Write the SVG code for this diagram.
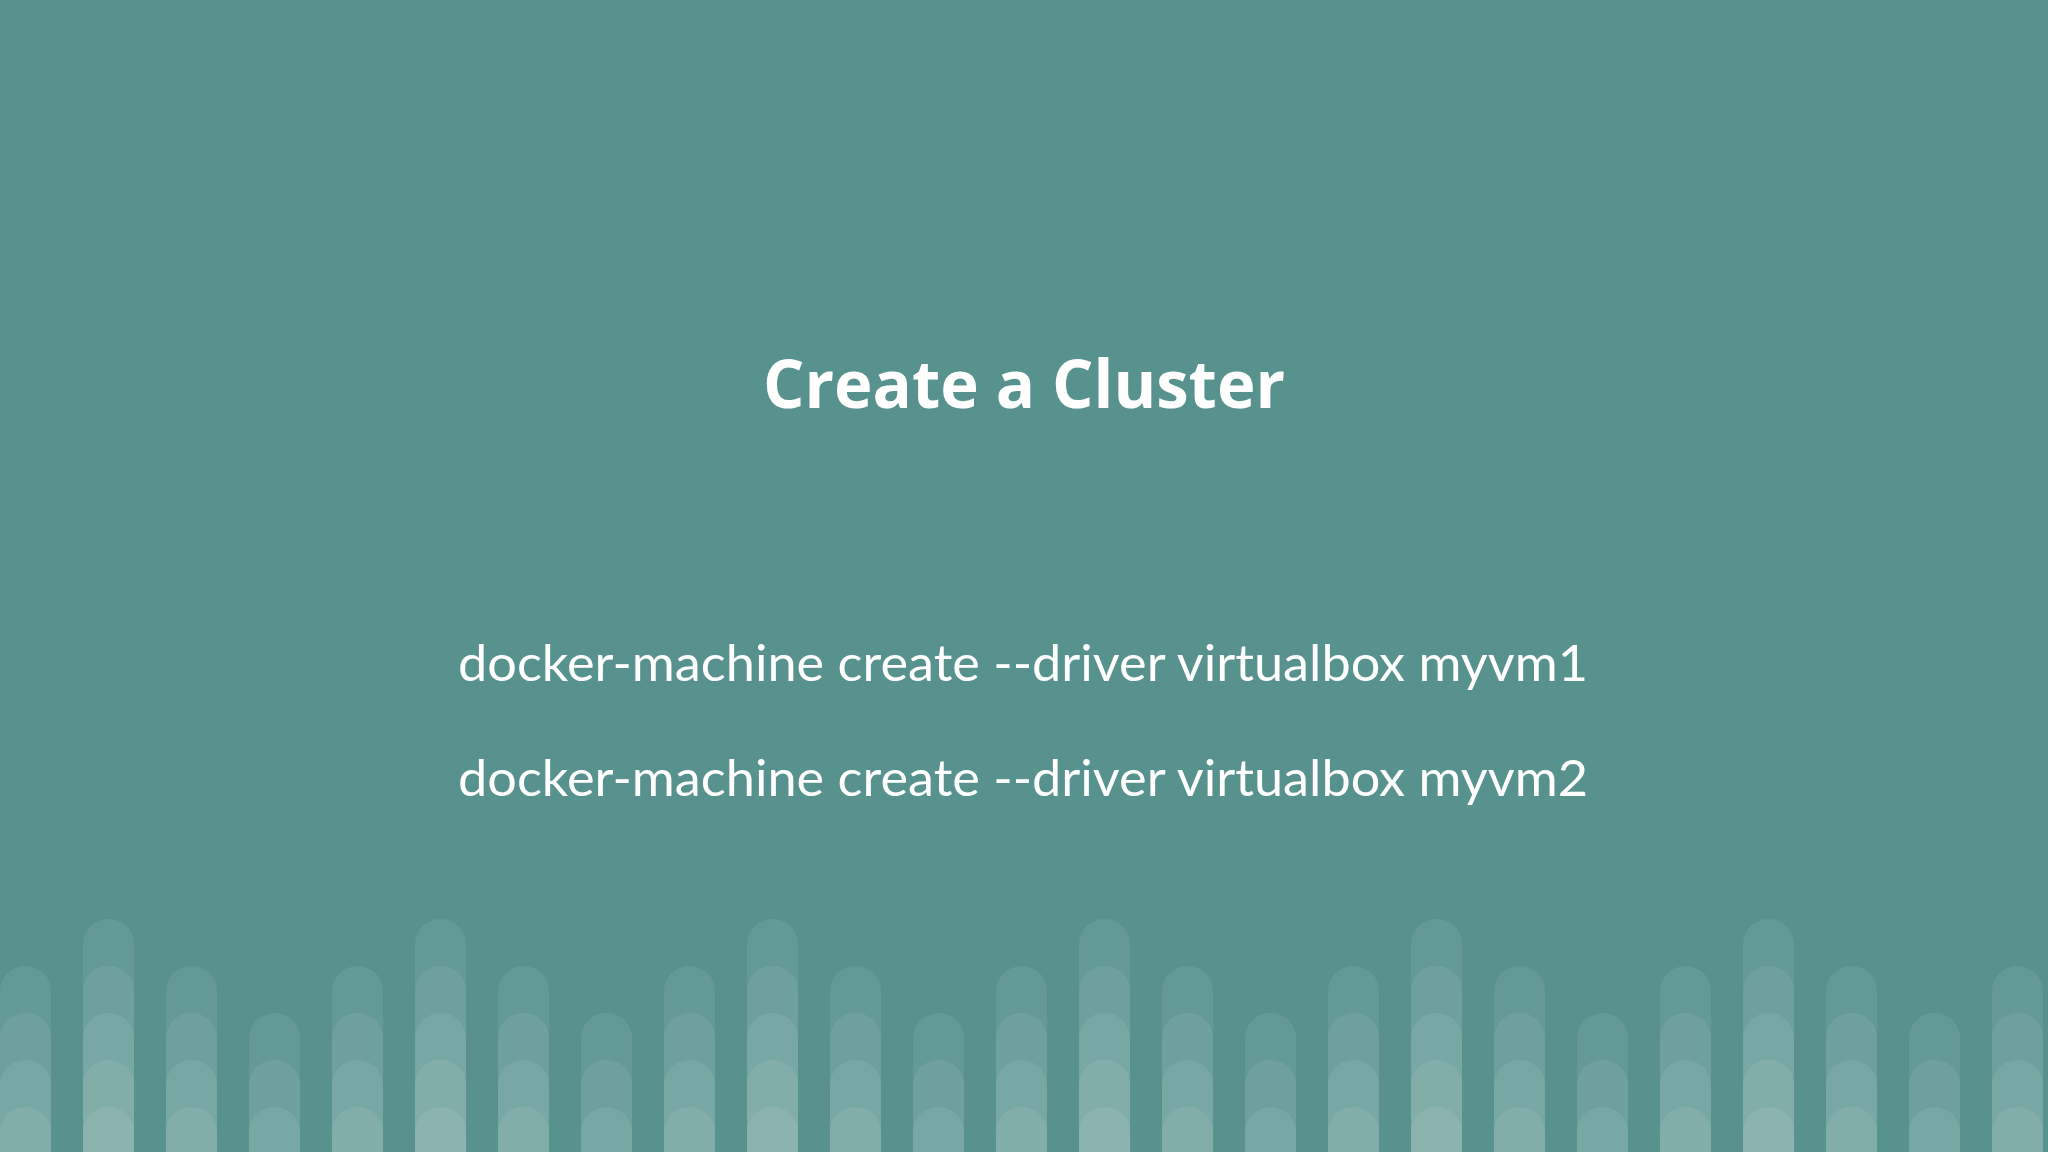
<svg xmlns="http://www.w3.org/2000/svg" width="2048" height="1152" viewBox="0 0 2048 1152">
<defs>
<style>
.t{font-family:"Open Sans","Liberation Sans",sans-serif;font-weight:bold;font-size:66px;fill:#fff}
.c{font-family:Lato,"Liberation Sans",sans-serif;font-size:50px;fill:#fff}
.l{fill:#fff;fill-opacity:0.075}
</style>
<symbol id="L" overflow="visible"><rect class="l" x="0" y="0" width="51" height="400" rx="25"/></symbol>
</defs>
<rect width="2048" height="1152" fill="#57928e"/>
<g id="title"><text class="t" x="1024" y="408" text-anchor="middle" textLength="522" lengthAdjust="spacingAndGlyphs">Create a Cluster</text></g>
<g id="cmd1"><text class="c" x="458" y="681" textLength="1130" lengthAdjust="spacingAndGlyphs">docker-machine create --driver virtualbox myvm1</text></g>
<g id="cmd2"><text class="c" x="458" y="796" textLength="1130" lengthAdjust="spacingAndGlyphs">docker-machine create --driver virtualbox myvm2</text></g>
<g id="bars">
<use href="#L" x="0" y="966"/><use href="#L" x="0" y="1013"/><use href="#L" x="0" y="1060"/><use href="#L" x="0" y="1107"/>
<use href="#L" x="83" y="919"/><use href="#L" x="83" y="966"/><use href="#L" x="83" y="1013"/><use href="#L" x="83" y="1060"/><use href="#L" x="83" y="1107"/>
<use href="#L" x="166" y="966"/><use href="#L" x="166" y="1013"/><use href="#L" x="166" y="1060"/><use href="#L" x="166" y="1107"/>
<use href="#L" x="249" y="1013"/><use href="#L" x="249" y="1060"/><use href="#L" x="249" y="1107"/>
<use href="#L" x="332" y="966"/><use href="#L" x="332" y="1013"/><use href="#L" x="332" y="1060"/><use href="#L" x="332" y="1107"/>
<use href="#L" x="415" y="919"/><use href="#L" x="415" y="966"/><use href="#L" x="415" y="1013"/><use href="#L" x="415" y="1060"/><use href="#L" x="415" y="1107"/>
<use href="#L" x="498" y="966"/><use href="#L" x="498" y="1013"/><use href="#L" x="498" y="1060"/><use href="#L" x="498" y="1107"/>
<use href="#L" x="581" y="1013"/><use href="#L" x="581" y="1060"/><use href="#L" x="581" y="1107"/>
<use href="#L" x="664" y="966"/><use href="#L" x="664" y="1013"/><use href="#L" x="664" y="1060"/><use href="#L" x="664" y="1107"/>
<use href="#L" x="747" y="919"/><use href="#L" x="747" y="966"/><use href="#L" x="747" y="1013"/><use href="#L" x="747" y="1060"/><use href="#L" x="747" y="1107"/>
<use href="#L" x="830" y="966"/><use href="#L" x="830" y="1013"/><use href="#L" x="830" y="1060"/><use href="#L" x="830" y="1107"/>
<use href="#L" x="913" y="1013"/><use href="#L" x="913" y="1060"/><use href="#L" x="913" y="1107"/>
<use href="#L" x="996" y="966"/><use href="#L" x="996" y="1013"/><use href="#L" x="996" y="1060"/><use href="#L" x="996" y="1107"/>
<use href="#L" x="1079" y="919"/><use href="#L" x="1079" y="966"/><use href="#L" x="1079" y="1013"/><use href="#L" x="1079" y="1060"/><use href="#L" x="1079" y="1107"/>
<use href="#L" x="1162" y="966"/><use href="#L" x="1162" y="1013"/><use href="#L" x="1162" y="1060"/><use href="#L" x="1162" y="1107"/>
<use href="#L" x="1245" y="1013"/><use href="#L" x="1245" y="1060"/><use href="#L" x="1245" y="1107"/>
<use href="#L" x="1328" y="966"/><use href="#L" x="1328" y="1013"/><use href="#L" x="1328" y="1060"/><use href="#L" x="1328" y="1107"/>
<use href="#L" x="1411" y="919"/><use href="#L" x="1411" y="966"/><use href="#L" x="1411" y="1013"/><use href="#L" x="1411" y="1060"/><use href="#L" x="1411" y="1107"/>
<use href="#L" x="1494" y="966"/><use href="#L" x="1494" y="1013"/><use href="#L" x="1494" y="1060"/><use href="#L" x="1494" y="1107"/>
<use href="#L" x="1577" y="1013"/><use href="#L" x="1577" y="1060"/><use href="#L" x="1577" y="1107"/>
<use href="#L" x="1660" y="966"/><use href="#L" x="1660" y="1013"/><use href="#L" x="1660" y="1060"/><use href="#L" x="1660" y="1107"/>
<use href="#L" x="1743" y="919"/><use href="#L" x="1743" y="966"/><use href="#L" x="1743" y="1013"/><use href="#L" x="1743" y="1060"/><use href="#L" x="1743" y="1107"/>
<use href="#L" x="1826" y="966"/><use href="#L" x="1826" y="1013"/><use href="#L" x="1826" y="1060"/><use href="#L" x="1826" y="1107"/>
<use href="#L" x="1909" y="1013"/><use href="#L" x="1909" y="1060"/><use href="#L" x="1909" y="1107"/>
<use href="#L" x="1992" y="966"/><use href="#L" x="1992" y="1013"/><use href="#L" x="1992" y="1060"/><use href="#L" x="1992" y="1107"/>
</g>
</svg>
